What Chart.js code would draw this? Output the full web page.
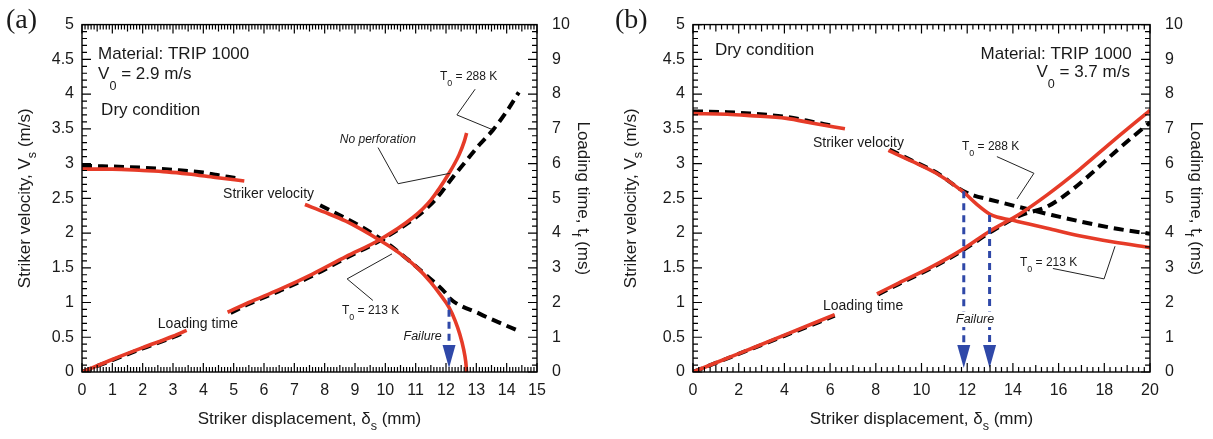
<!DOCTYPE html>
<html>
<head>
<meta charset="utf-8">
<script src="https://cdn.jsdelivr.net/npm/chart.js@4.4.1/dist/chart.umd.min.js"></script>
<style>
  html, body { margin: 0; padding: 0; background: #fff; }
  #wrap { position: relative; width: 1213px; height: 439px; }
  .panel { position: absolute; top: 0; }
</style>
</head>
<body>
<div id="wrap">
  <div class="panel" style="left:0"><canvas id="chartA" width="606" height="439"></canvas></div>
  <div class="panel" style="left:606px"><canvas id="chartB" width="607" height="439"></canvas></div>
</div>
<script>
// ---- tick labels ----
const velTickVals = [0, 0.5, 1, 1.5, 2, 2.5, 3, 3.5, 4, 4.5, 5];
const velTickLabels = ["0", "0.5", "1", "1.5", "2", "2.5", "3", "3.5", "4", "4.5", "5"];
const timeTickVals = [0, 1, 2, 3, 4, 5, 6, 7, 8, 9, 10];
const timeTickLabels = ["0", "1", "2", "3", "4", "5", "6", "7", "8", "9", "10"];
const dispTickValsA = [0, 1, 2, 3, 4, 5, 6, 7, 8, 9, 10, 11, 12, 13, 14, 15];
const dispTickLabelsA = ["0", "1", "2", "3", "4", "5", "6", "7", "8", "9", "10", "11", "12", "13", "14", "15"];
const dispTickValsB = [0, 2, 4, 6, 8, 10, 12, 14, 16, 18, 20];
const dispTickLabelsB = ["0", "2", "4", "6", "8", "10", "12", "14", "16", "18", "20"];

// ---- (a) V0 = 2.9 m/s ----  (null = gap where a label sits)
const aVel213X  = [0, 1, 2, 2.8, 3.5, 4.4, 5.35, 6.3, 7.35, 8, 8.7, 9.8, 10.5, 11.1, 11.5, 11.8, 12.1, 12.3, 12.45, 12.58, 12.65, 12.68];
const aVel213Y  = [2.92, 2.92, 2.90, 2.88, 2.85, 2.80, 2.75, null, 2.41, 2.30, 2.17, 1.90, 1.70, 1.48, 1.29, 1.12, 0.93, 0.74, 0.55, 0.33, 0.15, 0];
const aVel288X  = [0, 2, 3, 4, 4.4, 5.2, 6.5, 7.85, 9.25, 10.1, 11.3, 12.0, 12.1, 13.1, 14.4];
const aVel288Y  = [2.97, 2.94, 2.91, 2.87, 2.84, 2.78, null, 2.40, 2.08, 1.84, 1.41, 1.13, 1.07, 0.84, 0.59];
const aTime213X = [0, 1, 2, 3, 3.45, 4.1, 4.8, 5.5, 6.5, 7.6, 8.7, 9.8, 10.9, 11.5, 12.1, 12.43, 12.6, 12.68];
const aTime213Y = [0, 0.36, 0.70, 1.03, 1.20, null, 1.72, 2.00, 2.37, 2.82, 3.32, 3.80, 4.44, 4.95, 5.72, 6.25, 6.63, 6.88];
const aTime288X = [0, 1, 2, 3, 3.4, 4.1, 4.9, 5.5, 6.5, 7.6, 8.7, 9.8, 10.9, 11.35, 11.7, 12.2, 12.65, 13.1, 13.55, 14.0, 14.4];
const aTime288Y = [0, 0.34, 0.68, 1.00, 1.15, null, 1.70, 1.96, 2.33, 2.77, 3.28, 3.77, 4.38, 4.70, 5.01, 5.58, 6.06, 6.54, 6.97, 7.50, 8.05];
const aFailX = [12.1];
const aFailV = [1.07];

// ---- (b) V0 = 3.7 m/s ----
const bVel213X  = [0, 1.5, 2.5, 4.1, 5.25, 6.65, 7.6, 8.55, 9.6, 10.65, 11.8, 12.4, 13.0, 13.3, 13.9, 14.3, 15.5, 16.9, 18.4, 20];
const bVel213Y  = [3.72, 3.71, 3.69, 3.65, 3.58, 3.50, null, 3.19, 3.03, 2.86, 2.60, 2.42, 2.27, 2.23, 2.19, 2.16, 2.07, 1.96, 1.87, 1.79];
const bVel288X  = [0, 1.5, 2.5, 4.1, 5.25, 6.0, 7.6, 8.6, 9.6, 10.65, 11.8, 12.3, 13.0, 14.45, 15.7, 16.9, 18.4, 20];
const bVel288Y  = [3.75, 3.74, 3.72, 3.67, 3.60, 3.55, null, 3.20, 3.04, 2.87, 2.61, 2.54, 2.48, 2.36, 2.26, 2.17, 2.07, 1.99];
const bTime213X = [0, 2, 4, 6.2, 7.1, 8.05, 9, 10.4, 11.8, 13.0, 14.3, 15.5, 16.9, 18.4, 20];
const bTime213Y = [0, 0.53, 1.06, 1.65, null, 2.25, 2.56, 3.01, 3.53, 4.06, 4.55, 5.10, 5.82, 6.66, 7.53];
const bTime288X = [0, 2, 4, 6.2, 7.1, 8.1, 9, 10.4, 11.8, 13.0, 14.3, 15.5, 16.5, 17.5, 18.5, 19.3, 20];
const bTime288Y = [0, 0.52, 1.04, 1.62, null, 2.23, 2.53, 2.98, 3.50, 4.02, 4.50, 4.76, 5.20, 5.75, 6.35, 6.80, 7.18];
const bFailX = [11.85, 12.98];
const bFailV = [2.60, 2.26];

const FONT = "'Liberation Sans', Arial, Helvetica, sans-serif";
const RED = "#e63b28";
const BLUE = "#2f48a8";
const INK = "#1a1a1a";

function pts(xs, ys) {
    return xs.map((x, i) => ({ x: x, y: ys[i] }));
}

function redLine(xs, ys, axis) {
    return { data: pts(xs, ys), yAxisID: axis, borderColor: RED, borderWidth: 3.6 };
}
function blackDash(xs, ys, axis) {
    return { data: pts(xs, ys), yAxisID: axis, borderColor: "#000", borderWidth: 4, borderDash: [10, 6] };
}

// text with subscripts: parts = [[text, isSub], ...]
function drawRich(ctx, x, y, parts, size, o) {
    o = o || {};
    const style = o.italic ? "italic " : "";
    const subSize = size * 0.74;
    const widths = parts.map(p => {
        ctx.font = style + (p[1] ? subSize : size) + "px " + FONT;
        return ctx.measureText(p[0]).width;
    });
    const total = widths.reduce((s, w) => s + w, 0);
    let cx = o.align === "right" ? x - total : (o.align === "center" ? x - total / 2 : x);
    if (o.bg) {
        ctx.fillStyle = "#fff";
        ctx.fillRect(cx - 2, y - size * 0.9, total + 4, size * 1.25);
    }
    ctx.fillStyle = INK;
    ctx.textBaseline = o.baseline || "alphabetic";
    parts.forEach((p, i) => {
        ctx.font = style + (p[1] ? subSize : size) + "px " + FONT;
        ctx.fillText(p[0], cx, y + (p[1] ? size * (o.drop || 0.5) : 0));
        cx += widths[i];
    });
}

function tickLen(i, per, midPer) {
    if (i % per === 0) return 9;
    if (midPer && i % midPer === 0) return 7;
    return 5;
}

/* 枠・内向き目盛り・注記をまとめて描く（パネルごとに生成） */
function makePanelPlugin(P) {
    return {
        id: "panel" + P.letter,
        afterDraw(chart) {
            const { ctx, chartArea: a, scales } = chart;
            const sx = scales.x, sv = scales.v, st = scales.t;
            ctx.save();

            // failure arrows
            P.failX.forEach((fx, i) => {
                const px = sx.getPixelForValue(fx);
                const y0 = sv.getPixelForValue(P.failV[i]);
                const headTop = a.bottom - 27;
                ctx.strokeStyle = BLUE;
                ctx.lineWidth = 3;
                ctx.setLineDash([7, 5]);
                ctx.beginPath();
                ctx.moveTo(px, y0);
                ctx.lineTo(px, headTop);
                ctx.stroke();
                ctx.setLineDash([]);
                ctx.fillStyle = BLUE;
                ctx.beginPath();
                ctx.moveTo(px - 6.5, headTop);
                ctx.lineTo(px + 6.5, headTop);
                ctx.lineTo(px, a.bottom - 4);
                ctx.closePath();
                ctx.fill();
            });

            // leader lines
            ctx.strokeStyle = "#222";
            ctx.lineWidth = 1;
            P.leaders.forEach(l => {
                ctx.beginPath();
                l.forEach((p, i) => {
                    const X = sx.getPixelForValue(p[0]), Y = sv.getPixelForValue(p[1]);
                    if (i === 0) ctx.moveTo(X, Y); else ctx.lineTo(X, Y);
                });
                ctx.stroke();
            });

            // labels
            P.labels.forEach(t => {
                drawRich(ctx, sx.getPixelForValue(t.x), sv.getPixelForValue(t.v), t.parts, t.size,
                    { italic: t.italic, align: t.align, bg: t.bg, drop: t.drop });
            });

            // inward ticks on all four sides
            ctx.strokeStyle = "#000";
            ctx.lineWidth = 1.2;
            ctx.beginPath();
            const nx = Math.round(P.xMax / P.xMinor);
            for (let i = 0; i <= nx; i++) {
                const p = sx.getPixelForValue(i * P.xMinor);
                const len = tickLen(i, P.xMajorEvery, P.xMidEvery);
                ctx.moveTo(p, a.bottom);
                ctx.lineTo(p, a.bottom - len);
                ctx.moveTo(p, a.top);
                ctx.lineTo(p, a.top + len);
            }
            for (let i = 0; i <= 50; i++) {
                const p = sv.getPixelForValue(i * 0.1);
                ctx.moveTo(a.left, p);
                ctx.lineTo(a.left + tickLen(i, 5), p);
            }
            for (let i = 0; i <= 50; i++) {
                const p = st.getPixelForValue(i * 0.2);
                ctx.moveTo(a.right, p);
                ctx.lineTo(a.right - tickLen(i, 5), p);
            }
            ctx.stroke();

            // frame
            ctx.lineWidth = 1.4;
            ctx.strokeRect(a.left, a.top, a.right - a.left, a.bottom - a.top);

            // axis titles
            drawRich(ctx, (a.left + a.right) / 2, a.bottom + 52,
                [["Striker displacement, \u03b4", 0], ["s", 1], [" (mm)", 0]], 17, { align: "center", drop: 0.35 });

            ctx.save();
            ctx.translate(25, (a.top + a.bottom) / 2);
            ctx.rotate(-Math.PI / 2);
            drawRich(ctx, 0, 0, [["Striker velocity, V", 0], ["s", 1], [" (m/s)", 0]], 17,
                { align: "center", baseline: "middle", drop: 0.45 });
            ctx.restore();

            ctx.save();
            ctx.translate(a.right + 46, (a.top + a.bottom) / 2);
            ctx.rotate(Math.PI / 2);
            drawRich(ctx, 0, 0, [["Loading time, t", 0], ["f", 1], [" (ms)", 0]], 17,
                { align: "center", baseline: "middle", drop: 0.45 });
            ctx.restore();

            // panel letter
            ctx.fillStyle = INK;
            ctx.textBaseline = "alphabetic";
            ctx.font = "28px 'Liberation Serif', 'Times New Roman', serif";
            ctx.fillText(P.letter, P.letterX, 28);

            ctx.restore();
        }
    };
}

function tickCallback(vals, labels) {
    return function (value) {
        const i = vals.findIndex(v => Math.abs(v - value) < 1e-9);
        return i < 0 ? "" : labels[i];
    };
}

function makeChart(id, cfg) {
    const tickFont = { family: FONT, size: 16 };
    return new Chart(document.getElementById(id), {
        type: "line",
        data: { datasets: cfg.datasets },
        options: {
            responsive: false,
            animation: false,
            layout: { padding: { left: 0, top: 22, right: 0, bottom: 0 } },
            elements: {
                point: { radius: 0 },
                line: { cubicInterpolationMode: "monotone", capBezierPoints: true }
            },
            plugins: {
                legend: { display: false },
                tooltip: { enabled: false }
            },
            scales: {
                x: {
                    type: "linear", min: 0, max: cfg.xMax,
                    grid: { display: false, drawTicks: false }, border: { display: false },
                    ticks: {
                        stepSize: cfg.xStep, padding: 9, color: INK, font: tickFont,
                        autoSkip: false, maxRotation: 0,
                        callback: tickCallback(cfg.xVals, cfg.xLabels)
                    },
                    afterFit: s => { s.height = 67; }
                },
                v: {
                    type: "linear", position: "left", min: 0, max: 5,
                    grid: { display: false, drawTicks: false }, border: { display: false },
                    ticks: { stepSize: 0.5, padding: 8, color: INK, font: tickFont, callback: tickCallback(velTickVals, velTickLabels) },
                    afterFit: s => { s.width = cfg.leftW; }
                },
                t: {
                    type: "linear", position: "right", min: 0, max: 10,
                    grid: { display: false, drawTicks: false }, border: { display: false },
                    ticks: { stepSize: 1, padding: 15, color: INK, font: tickFont, callback: tickCallback(timeTickVals, timeTickLabels) },
                    afterFit: s => { s.width = cfg.rightW; }
                }
            }
        },
        plugins: [makePanelPlugin(cfg.panel)]
    });
}

const T0 = v => [["T", 0], ["0", 1], [" = " + v + " K", 0]];

makeChart("chartA", {
    xMax: 15, xStep: 1, xVals: dispTickValsA, xLabels: dispTickLabelsA,
    leftW: 82, rightW: 69,
    datasets: [
        redLine(aVel213X, aVel213Y, "v"),
        redLine(aTime213X, aTime213Y, "t"),
        blackDash(aVel288X, aVel288Y, "v"),
        blackDash(aTime288X, aTime288Y, "t")
    ],
    panel: {
        letter: "(a)", letterX: 6,
        xMax: 15, xMinor: 0.1, xMidEvery: 5, xMajorEvery: 10,
        failX: aFailX, failV: aFailV,
        leaders: [
            [[9.76, 3.23], [10.42, 2.71], [12.13, 2.86]],
            [[12.96, 4.07], [12.36, 3.70], [13.52, 3.49]],
            [[9.59, 1.03], [8.74, 1.34], [10.22, 1.70]]
        ],
        labels: [
            { x: 0.53, v: 4.51, parts: [["Material: TRIP 1000", 0]], size: 17 },
            { x: 0.53, v: 4.21, parts: [["V", 0], ["0", 1], [" = 2.9 m/s", 0]], size: 17, drop: 0.6 },
            { x: 0.63, v: 3.70, parts: [["Dry condition", 0]], size: 17 },
            { x: 4.65, v: 2.51, parts: [["Striker velocity", 0]], size: 14 },
            { x: 8.5, v: 3.29, parts: [["No perforation", 0]], size: 12, italic: true },
            { x: 11.8, v: 4.2, parts: T0(288), size: 12 },
            { x: 8.57, v: 0.83, parts: T0(213), size: 12 },
            { x: 10.6, v: 0.46, parts: [["Failure", 0]], size: 12.5, italic: true },
            { x: 2.5, v: 0.63, parts: [["Loading time", 0]], size: 14 }
        ]
    }
});

makeChart("chartB", {
    xMax: 20, xStep: 2, xVals: dispTickValsB, xLabels: dispTickLabelsB,
    leftW: 87, rightW: 63,
    datasets: [
        redLine(bVel213X, bVel213Y, "v"),
        redLine(bTime213X, bTime213Y, "t"),
        blackDash(bVel288X, bVel288Y, "v"),
        blackDash(bTime288X, bTime288Y, "t")
    ],
    panel: {
        letter: "(b)", letterX: 9,
        xMax: 20, xMinor: 0.25, xMidEvery: 4, xMajorEvery: 8,
        failX: bFailX, failV: bFailV,
        leaders: [
            [[13.3, 3.1], [14.92, 2.86], [14.18, 2.49]],
            [[15.75, 1.49], [17.99, 1.34], [18.47, 1.81]]
        ],
        labels: [
            { x: 0.96, v: 4.56, parts: [["Dry condition", 0]], size: 17 },
            { x: 19.2, v: 4.51, parts: [["Material: TRIP 1000", 0]], size: 17, align: "right" },
            { x: 19.12, v: 4.24, parts: [["V", 0], ["0", 1], [" = 3.7 m/s", 0]], size: 17, align: "right", drop: 0.6 },
            { x: 5.25, v: 3.24, parts: [["Striker velocity", 0]], size: 14 },
            { x: 11.77, v: 3.2, parts: T0(288), size: 12 },
            { x: 14.31, v: 1.53, parts: T0(213), size: 12 },
            { x: 11.51, v: 0.71, parts: [["Failure", 0]], size: 12.5, italic: true, bg: true },
            { x: 5.69, v: 0.89, parts: [["Loading time", 0]], size: 14 }
        ]
    }
});
</script>
</body>
</html>
